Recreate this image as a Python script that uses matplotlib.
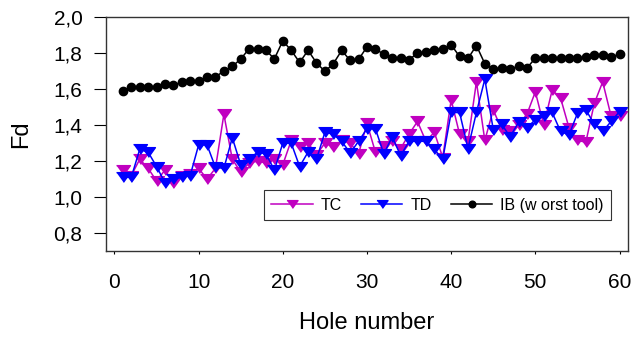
import matplotlib
matplotlib.use("Agg")
import matplotlib.pyplot as plt

plt.rcParams['font.family'] = ['Liberation Sans', 'DejaVu Sans']

holes = list(range(1, 61))

tc = [1.15, 1.12, 1.21, 1.16, 1.09, 1.15, 1.08, 1.12, 1.13, 1.16,
      1.10, 1.16, 1.46, 1.21, 1.14, 1.19, 1.20, 1.19, 1.21, 1.18,
      1.315, 1.28, 1.30, 1.235, 1.30, 1.28, 1.315, 1.30, 1.24, 1.41,
      1.25, 1.285, 1.31, 1.27, 1.35, 1.42, 1.31, 1.36, 1.22, 1.54,
      1.35, 1.31, 1.64, 1.315, 1.485, 1.375, 1.365, 1.40, 1.46, 1.585,
      1.40, 1.595, 1.55, 1.385, 1.315, 1.305, 1.52, 1.64, 1.45, 1.45]

td = [1.11, 1.11, 1.265, 1.25, 1.17, 1.08, 1.10, 1.11, 1.12, 1.29,
      1.29, 1.165, 1.16, 1.33, 1.18, 1.21, 1.25, 1.24, 1.15, 1.30,
      1.30, 1.17, 1.25, 1.21, 1.36, 1.35, 1.31, 1.245, 1.31, 1.38,
      1.38, 1.24, 1.335, 1.23, 1.31, 1.31, 1.31, 1.265, 1.21, 1.47,
      1.47, 1.27, 1.47, 1.655, 1.375, 1.405, 1.335, 1.415, 1.385, 1.43,
      1.45, 1.47, 1.365, 1.345, 1.465, 1.485, 1.405, 1.365, 1.42, 1.475]

ib = [1.587, 1.611, 1.614, 1.614, 1.611, 1.626, 1.622, 1.639, 1.644, 1.644,
      1.668, 1.668, 1.700, 1.726, 1.767, 1.824, 1.824, 1.815, 1.768, 1.868,
      1.815, 1.748, 1.815, 1.746, 1.698, 1.741, 1.815, 1.759, 1.765, 1.834,
      1.822, 1.794, 1.772, 1.772, 1.763, 1.800, 1.805, 1.818, 1.822, 1.846,
      1.781, 1.770, 1.842, 1.741, 1.711, 1.717, 1.713, 1.726, 1.717, 1.772,
      1.772, 1.772, 1.772, 1.772, 1.772, 1.778, 1.791, 1.791, 1.778, 1.794]

# wide, flat downward triangle
tri = [(-1, 0.7), (1, 0.7), (0, -0.7)]

fig = plt.figure(figsize=(6.33, 3.38), dpi=100)
ax = fig.add_axes([0.1675, 0.257, 0.8245, 0.6925])

ax.plot(holes, tc, color='#c000c0', marker=tri, markersize=10, linewidth=1.1,
        label='TC')
ax.plot(holes, td, color='#0000ff', marker=tri, markersize=10, linewidth=1.1,
        label='TD')
ax.plot(holes, ib, color='black', marker='o', markersize=6, linewidth=1.1,
        label='IB (w orst tool)')

ax.set_xlim(-1, 61)
ax.set_ylim(0.7, 2.0)
ax.set_xticks([0, 10, 20, 30, 40, 50, 60])
ax.set_yticks([0.8, 1.0, 1.2, 1.4, 1.6, 1.8, 2.0])
ax.set_yticklabels(['0,8', '1,0', '1,2', '1,4', '1,6', '1,8', '2,0'])

ax.tick_params(axis='y', direction='out', length=9, width=0.8, pad=8, labelsize=15)
ax.tick_params(axis='x', direction='out', length=2.5, width=0.8, pad=13, labelsize=15)
for s in ax.spines.values():
    s.set_linewidth(1.0)
    s.set_color('#333333')

ax.set_xlabel('Hole number', fontsize=17, labelpad=15)
ax.set_ylabel('Fd', fontsize=17, labelpad=15)

leg = ax.legend(ncol=3, loc='lower right', bbox_to_anchor=(0.983, 0.1),
                fontsize=11.5, fancybox=False, framealpha=1, edgecolor='#333333',
                handlelength=2.6, columnspacing=1.2, handletextpad=0.5,
                borderpad=0.45, markerscale=0.8)
leg.get_frame().set_linewidth(0.8)

fig.savefig('out.png', dpi=100)
